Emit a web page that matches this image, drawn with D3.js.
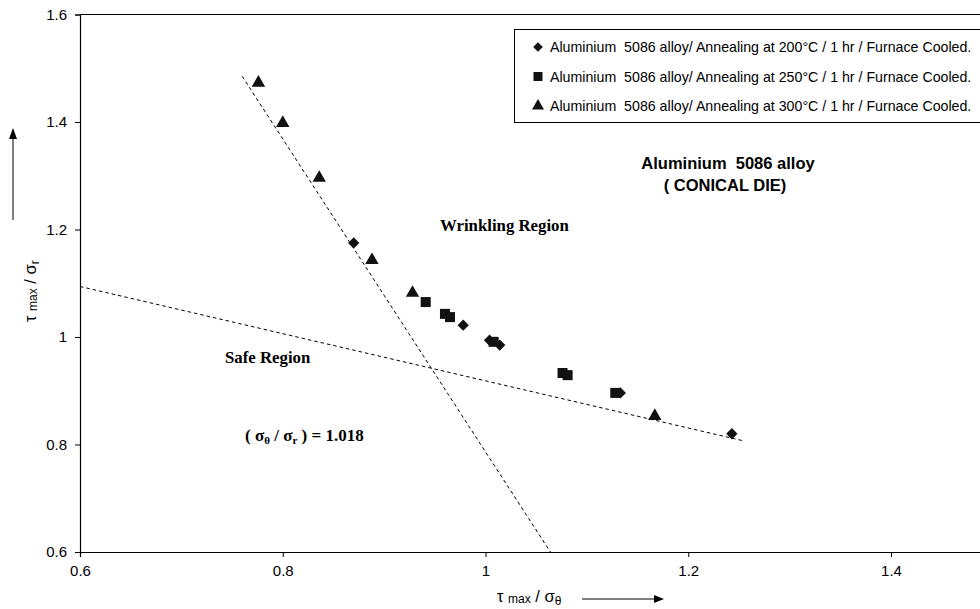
<!DOCTYPE html>
<html><head><meta charset="utf-8">
<script src="https://cdn.jsdelivr.net/npm/d3@7"></script>
<style>body{margin:0;background:#fff}</style>
</head><body><svg id="c" width="980" height="609" xmlns="http://www.w3.org/2000/svg"></svg>
<script>
// ---- data ----
const seriesNames = [
  "Aluminium  5086 alloy/ Annealing at 200°C / 1 hr / Furnace Cooled.",
  "Aluminium  5086 alloy/ Annealing at 250°C / 1 hr / Furnace Cooled.",
  "Aluminium  5086 alloy/ Annealing at 300°C / 1 hr / Furnace Cooled."
];
const diamondX = [0.870, 0.978, 1.004, 1.014, 1.133, 1.243];
const diamondY = [1.175, 1.022, 0.994, 0.985, 0.896, 0.820];
const squareX = [0.941, 0.960, 0.965, 1.008, 1.076, 1.081, 1.128];
const squareY = [1.065, 1.043, 1.037, 0.991, 0.933, 0.929, 0.896];
const triangleX = [0.776, 0.800, 0.836, 0.888, 0.928, 1.167];
const triangleY = [1.473, 1.398, 1.296, 1.143, 1.082, 0.853];
const xTicks = [0.6, 0.8, 1, 1.2, 1.4];
const yTicks = [0.6, 0.8, 1, 1.2, 1.4, 1.6];
const steepLineX = [0.760, 1.064];
const steepLineY = [1.485, 0.6];
const shallowLineX = [0.6, 1.254];
const shallowLineY = [1.094, 0.807];

// ---- chart ----
const svg = d3.select("#c");
const sans = "'Liberation Sans', Arial, sans-serif";
const serif = "'Liberation Serif', 'Times New Roman', serif";
const x = d3.scaleLinear().domain([0.6, 1.6]).range([80, 80 + 1013.75]);
const y = d3.scaleLinear().domain([0.6, 1.6]).range([552, 14.5]);
const fmt = d => String(+d.toFixed(1));

// frame top
svg.append("line").attr("x1", x(0.6)).attr("x2", x(1.6)).attr("y1", y(1.6)).attr("y2", y(1.6))
  .attr("stroke", "#000").attr("stroke-width", 1.2);

const xAxis = svg.append("g").attr("transform", `translate(0,${y(0.6)})`)
  .call(d3.axisBottom(x).tickValues(xTicks).tickFormat(fmt).tickSize(5).tickPadding(8));
const yAxis = svg.append("g").attr("transform", `translate(${x(0.6)},0)`)
  .call(d3.axisLeft(y).tickValues(yTicks).tickFormat(fmt).tickSize(5).tickPadding(8));
[xAxis, yAxis].forEach(g => {
  g.select(".domain").attr("stroke", "#000").attr("stroke-width", 1.2);
  g.selectAll(".tick line").attr("stroke", "#000");
  g.selectAll("text").attr("font-family", sans).attr("font-size", 15).attr("fill", "#000");
});

// dashed lines
const lineGen = d3.line().x(d => x(d[0])).y(d => y(d[1]));
[[steepLineX, steepLineY], [shallowLineX, shallowLineY]].forEach(([lx, ly]) => {
  svg.append("path").attr("d", lineGen(lx.map((v, i) => [v, ly[i]])))
    .attr("fill", "none").attr("stroke", "#000").attr("stroke-width", 1)
    .attr("stroke-dasharray", "3.5,3");
});

// markers
const diamondPath = d3.symbol().type(d3.symbolSquare).size(64)();
const squarePath = d3.symbol().type(d3.symbolSquare).size(100)();
const trianglePath = d3.symbol().type(d3.symbolTriangle).size(78)();
function drawMarkers(xs, ys, path, rot) {
  svg.append("g").selectAll("path").data(xs).join("path")
    .attr("d", path)
    .attr("transform", (d, i) => `translate(${x(d)},${y(ys[i])}) rotate(${rot})`)
    .attr("fill", "#111");
}
drawMarkers(squareX, squareY, squarePath, 0);
drawMarkers(diamondX, diamondY, diamondPath, 45);
drawMarkers(triangleX, triangleY, trianglePath, 0);

// legend
const leg = svg.append("g");
leg.append("rect").attr("x", 514.5).attr("y", 29.5).attr("width", 480).attr("height", 93)
  .attr("fill", "#fff").attr("stroke", "#000").attr("stroke-width", 1);
const legPaths = [[diamondPath, 45, 0.85], [squarePath, 0, 0.9], [trianglePath, 0, 0.9]];
seriesNames.forEach((name, i) => {
  const cy = 47 + i * 29.5;
  leg.append("path").attr("d", legPaths[i][0])
    .attr("transform", `translate(538,${cy}) rotate(${legPaths[i][1]}) scale(${legPaths[i][2]})`)
    .attr("fill", "#111");
  leg.append("text").attr("x", 550).attr("y", cy + 5).text(name)
    .attr("font-family", sans).attr("font-size", 14.2).style("white-space", "pre");
});

// annotations
svg.append("text").attr("x", 728).attr("y", 169).attr("text-anchor", "middle")
  .attr("font-family", sans).attr("font-weight", "bold").attr("font-size", 16.5)
  .style("white-space", "pre").text("Aluminium  5086 alloy");
svg.append("text").attr("x", 725).attr("y", 191).attr("text-anchor", "middle")
  .attr("font-family", sans).attr("font-weight", "bold").attr("font-size", 16.5)
  .style("white-space", "pre").text("( CONICAL DIE)");
svg.append("text").attr("x", 440).attr("y", 231)
  .attr("font-family", serif).attr("font-weight", "bold").attr("font-size", 16.8).text("Wrinkling Region");
svg.append("text").attr("x", 225).attr("y", 363)
  .attr("font-family", serif).attr("font-weight", "bold").attr("font-size", 16.8).text("Safe Region");
const ratio = svg.append("text").attr("x", 245).attr("y", 441)
  .attr("font-family", serif).attr("font-weight", "bold").attr("font-size", 17).style("white-space", "pre");
ratio.append("tspan").text("( σ");
ratio.append("tspan").attr("font-size", 11).attr("dy", 3).text("θ");
ratio.append("tspan").attr("dy", -3).text(" / σ");
ratio.append("tspan").attr("font-size", 11).attr("dy", 3).text("r");
ratio.append("tspan").attr("dy", -3).text(" ) = 1.018");

// x axis title
const xt = svg.append("text").attr("x", 497).attr("y", 602)
  .attr("font-family", sans).attr("font-size", 16.5).style("white-space", "pre");
xt.append("tspan").text("τ ");
xt.append("tspan").attr("font-size", 12).attr("dy", 1).text("max");
xt.append("tspan").attr("dy", -1).text(" / σ");
xt.append("tspan").attr("font-size", 12).attr("dy", 3).text("θ");
svg.append("line").attr("x1", 582).attr("x2", 655).attr("y1", 599).attr("y2", 599)
  .attr("stroke", "#000").attr("stroke-width", 1);
svg.append("path").attr("d", "M664,599 L654,595 L654,603 Z").attr("fill", "#000");

// y axis title
const yt = svg.append("text").attr("transform", "translate(36,322) rotate(-90)")
  .attr("font-family", sans).attr("font-size", 16.5).style("white-space", "pre");
yt.append("tspan").text("τ ");
yt.append("tspan").attr("font-size", 12).attr("dy", 1).text("max");
yt.append("tspan").attr("dy", -1).text(" / σ");
yt.append("tspan").attr("font-size", 12).attr("dy", 3).text("r");
svg.append("line").attr("x1", 13).attr("x2", 13).attr("y1", 220).attr("y2", 138)
  .attr("stroke", "#000").attr("stroke-width", 1);
svg.append("path").attr("d", "M13,128 L9,139 L17,139 Z").attr("fill", "#000");
</script></body></html>
